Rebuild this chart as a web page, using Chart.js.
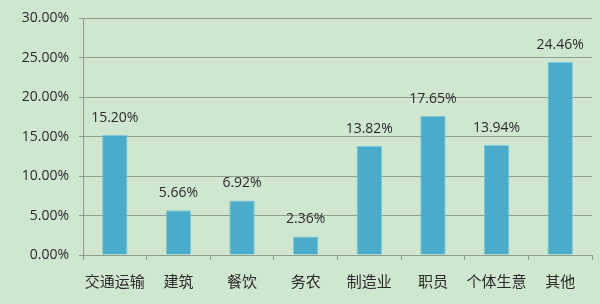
<!DOCTYPE html>
<html>
<head>
<meta charset="utf-8">
<script src="https://cdn.jsdelivr.net/npm/chart.js@4"></script>
<style>
  html, body { margin: 0; padding: 0; background: #cfe7cf; }
  #wrap { width: 600px; height: 304px; }
</style>
</head>
<body>
<div id="wrap"><canvas id="c" width="600" height="304"></canvas></div>
<script>
// Share of respondents by occupation (%)
const categories = ['交通运输', '建筑', '餐饮', '务农', '制造业', '职员', '个体生意', '其他'];
const shares = [15.20, 5.66, 6.92, 2.36, 13.82, 17.65, 13.94, 24.46];
const yTicks = [0, 5, 10, 15, 20, 25, 30];

const numFont = { family: '"Open Sans", "Noto Sans", sans-serif', size: 14 };
const textColor = '#2a2a2a';
const gridColor = '#8f9e8f';

// Writes each bar's value above it
const valueLabels = {
  id: 'valueLabels',
  afterDatasetsDraw(chart) {
    const ctx = chart.ctx;
    const meta = chart.getDatasetMeta(0);
    ctx.save();
    ctx.font = numFont.size + 'px ' + numFont.family;
    ctx.fillStyle = textColor;
    ctx.textAlign = 'center';
    ctx.textBaseline = 'middle';
    meta.data.forEach((bar, i) => {
      ctx.fillText(shares[i].toFixed(2) + '%', bar.x, bar.y - 17);
    });
    ctx.restore();
  }
};

new Chart(document.getElementById('c'), {
  type: 'bar',
  data: {
    labels: categories,
    datasets: [{
      data: shares,
      backgroundColor: '#4aacc8',
      borderColor: '#7cc8dc',
      borderWidth: { left: 1, right: 1, top: 1, bottom: 0 },
      categoryPercentage: 1,
      barPercentage: 0.4
    }]
  },
  options: {
    responsive: false,
    animation: false,
    layout: { padding: { top: 8, right: 8, left: 0, bottom: 0 } },
    plugins: { legend: { display: false }, tooltip: { enabled: false } },
    scales: {
      x: {
        grid: { drawOnChartArea: false, drawTicks: true, tickLength: 5, color: gridColor, offset: true },
        border: { color: gridColor },
        ticks: {
          color: textColor,
          font: { family: '"Noto Sans CJK SC", sans-serif', size: 15 },
          padding: 12,
          minRotation: 0,
          maxRotation: 0,
          autoSkip: false
        },
        afterFit(scale) { scale.height = 49; }
      },
      y: {
        min: 0,
        max: 30,
        afterBuildTicks(scale) { scale.ticks = yTicks.map(v => ({ value: v })); },
        grid: { color: gridColor, tickLength: 4 },
        border: { color: gridColor },
        ticks: {
          color: textColor,
          font: numFont,
          padding: 10,
          callback: v => v.toFixed(2) + '%'
        },
        afterFit(scale) { scale.width = 83; }
      }
    }
  },
  plugins: [valueLabels]
});
</script>
</body>
</html>
